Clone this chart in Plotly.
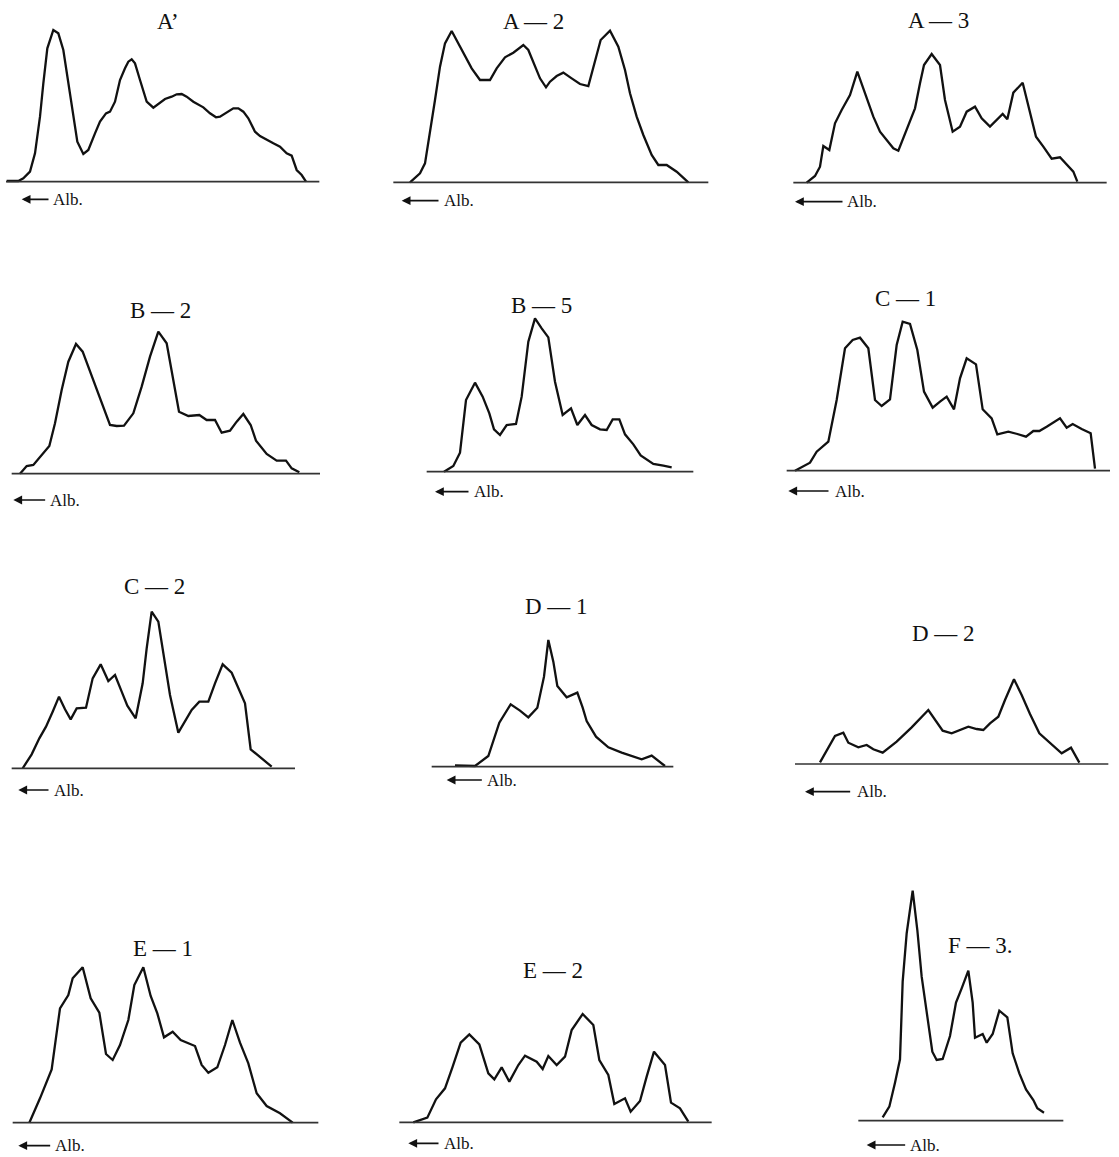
import plotly.graph_objects as go

W, H = 1119, 1157

# Panel labels
labels = ["A’", "A — 2", "A — 3", "B — 2", "B — 5", "C — 1",
          "C — 2", "D — 1", "D — 2", "E — 1", "E — 2", "F — 3."]

# Densitometer traces: position along strip, optical density
ap_x = [20, 55, 70, 90, 105, 120, 130, 142, 160, 175, 190, 205, 220, 232, 250, 265, 285, 300, 318, 330, 345, 360, 375, 385, 395, 405, 420, 430, 440, 460, 475, 495, 515, 530, 545, 560, 580, 600, 610, 630, 648, 660, 680, 700, 715, 730, 745, 765, 780, 800, 820, 840, 860, 875, 890, 905, 918]
ap_y = [2, 2, 10, 30, 85, 195, 295, 400, 455, 445, 395, 295, 195, 120, 83, 95, 145, 180, 205, 210, 240, 305, 340, 360, 367, 355, 305, 275, 240, 222, 233, 248, 255, 262, 263, 255, 240, 227, 223, 205, 193, 195, 207, 220, 220, 210, 190, 150, 137, 125, 115, 105, 85, 78, 35, 20, 0]

a2_x = [60, 90, 105, 120, 135, 150, 165, 185, 200, 220, 245, 270, 300, 320, 345, 370, 400, 415, 430, 450, 468, 480, 500, 520, 545, 570, 595, 610, 632, 660, 685, 705, 720, 740, 760, 785, 805, 830, 860, 895]
a2_y = [0, 27, 57, 147, 247, 347, 417, 454, 427, 387, 342, 307, 307, 342, 375, 389, 412, 397, 362, 312, 285, 302, 319, 329, 312, 295, 289, 347, 427, 455, 407, 337, 267, 197, 142, 82, 52, 52, 32, 0]

a3_x = [80, 105, 120, 130, 148, 165, 185, 210, 232, 255, 280, 300, 320, 340, 355, 380, 405, 420, 432, 455, 480, 495, 518, 540, 560, 585, 605, 630, 650, 668, 682, 700, 728, 745, 768, 790, 815, 840, 860, 880, 892]
a3_y = [0, 20, 48, 110, 98, 178, 218, 263, 333, 268, 198, 153, 128, 103, 96, 158, 223, 298, 353, 386, 353, 248, 153, 168, 213, 228, 193, 168, 188, 206, 190, 270, 300, 233, 138, 108, 72, 76, 53, 33, 3]

b2_x = [60, 80, 100, 125, 148, 165, 185, 205, 228, 248, 272, 300, 330, 350, 372, 400, 425, 450, 475, 500, 520, 537, 565, 598, 620, 645, 665, 690, 710, 730, 752, 768, 800, 830, 858, 875, 898]
b2_y = [0, 23, 26, 56, 83, 151, 251, 336, 389, 366, 301, 221, 146, 143, 144, 181, 261, 351, 426, 391, 281, 186, 173, 176, 161, 161, 123, 129, 156, 179, 146, 99, 59, 39, 39, 16, 4]

b5_x = [72, 100, 120, 138, 165, 188, 208, 222, 240, 260, 288, 305, 325, 345, 365, 385, 405, 428, 453, 472, 495, 515, 540, 560, 578, 598, 615, 640, 662, 700, 730, 755]
b5_y = [0, 17, 57, 215, 267, 225, 175, 127, 110, 140, 143, 225, 390, 460, 430, 403, 270, 170, 190, 140, 170, 140, 127, 125, 157, 157, 112, 82, 49, 23, 18, 13]

c1_x = [45, 90, 110, 145, 170, 195, 218, 240, 265, 285, 305, 330, 350, 368, 390, 412, 432, 458, 480, 500, 522, 540, 560, 588, 608, 635, 652, 685, 712, 738, 760, 778, 800, 822, 840, 860, 878, 905, 932, 945]
c1_y = [0, 24, 57, 87, 212, 367, 392, 399, 367, 212, 194, 214, 377, 447, 440, 362, 237, 189, 207, 222, 184, 277, 337, 319, 184, 157, 109, 117, 110, 102, 119, 119, 132, 145, 157, 129, 140, 125, 112, 6]

c2_x = [68, 95, 118, 138, 158, 177, 195, 212, 230, 258, 278, 302, 325, 345, 365, 382, 407, 428, 440, 455, 475, 490, 510, 535, 555, 575, 598, 625, 645, 668, 695, 715, 735, 752, 780, 815]
c2_y = [0, 42, 90, 125, 170, 215, 177, 147, 180, 182, 270, 312, 262, 280, 230, 188, 150, 255, 360, 470, 440, 345, 220, 107, 140, 175, 200, 200, 255, 312, 287, 243, 195, 57, 35, 5]

d1_x = [105, 165, 205, 238, 272, 300, 325, 352, 372, 385, 400, 412, 440, 472, 488, 500, 528, 565, 605, 640, 665, 695, 735]
d1_y = [4, 2, 32, 132, 187, 168, 148, 177, 270, 380, 315, 242, 208, 222, 177, 137, 90, 58, 42, 30, 22, 33, 2]

d2_x = [90, 135, 160, 175, 205, 230, 250, 278, 320, 365, 415, 440, 458, 485, 510, 535, 560, 580, 600, 625, 645, 672, 695, 720, 748, 775, 815, 843, 868]
d2_y = [5, 84, 94, 64, 50, 57, 44, 34, 67, 110, 162, 127, 100, 92, 102, 112, 105, 102, 122, 142, 192, 254, 207, 150, 92, 67, 32, 49, 4]

e1_x = [88, 120, 155, 180, 205, 218, 248, 272, 298, 318, 338, 360, 385, 403, 430, 452, 472, 492, 518, 542, 585, 605, 625, 652, 675, 697, 720, 745, 770, 800, 840, 878]
e1_y = [0, 73, 160, 343, 383, 433, 466, 373, 330, 206, 188, 233, 308, 413, 466, 380, 328, 256, 273, 248, 230, 173, 150, 166, 233, 308, 240, 178, 88, 50, 28, 0]

e2_x = [70, 112, 138, 165, 188, 212, 238, 268, 295, 313, 335, 358, 385, 405, 440, 458, 475, 500, 525, 545, 578, 610, 628, 655, 673, 705, 722, 750, 770, 792, 825, 843, 870, 895]
e2_y = [0, 14, 69, 102, 167, 239, 264, 234, 147, 129, 165, 122, 172, 200, 182, 160, 199, 172, 197, 277, 325, 292, 187, 142, 55, 72, 32, 64, 137, 212, 172, 59, 42, 2]

f3_x = [338, 358, 375, 390, 398, 410, 428, 442, 455, 470, 487, 500, 518, 540, 558, 575, 595, 608, 615, 638, 650, 668, 688, 712, 728, 748, 768, 790, 802, 822]
f3_y = [10, 42, 114, 184, 417, 562, 690, 572, 432, 322, 207, 182, 185, 254, 354, 397, 450, 354, 249, 260, 234, 260, 330, 310, 202, 142, 94, 62, 37, 24]

series = [(ap_x, ap_y), (a2_x, a2_y), (a3_x, a3_y), (b2_x, b2_y), (b5_x, b5_y), (c1_x, c1_y),
          (c2_x, c2_y), (d1_x, d1_y), (d2_x, d2_y), (e1_x, e1_y), (e2_x, e2_y), (f3_x, f3_y)]

# ---- layout (positions/styles) ----
# box: left, top, width, height in px; base: baseline offset; axis: baseline extent;
# title: (x, offset-from-top); arrow: (tip, tail, offset-from-top); alb: text left x
frames = [
    dict(box=(0, 0, 340, 215), base=545, axis=(18, 958), title=(505, 65), arrow=(65, 150, 598), alb=152),
    dict(box=(390, 0, 330, 215), base=547, axis=(10, 955), title=(430, 65), arrow=(35, 150, 602), alb=155),
    dict(box=(780, 0, 339, 215), base=548, axis=(40, 980), title=(474, 60), arrow=(45, 192, 605), alb=195),
    dict(box=(0, 290, 340, 220), base=551, axis=(35, 960), title=(480, 60), arrow=(40, 140, 630), alb=145),
    dict(box=(420, 290, 280, 220), base=545, axis=(20, 820), title=(365, 45), arrow=(45, 150, 605), alb=155),
    dict(box=(780, 280, 339, 230), base=572, axis=(20, 990), title=(375, 54), arrow=(25, 150, 633), alb=160),
    dict(box=(0, 570, 340, 230), base=595, axis=(35, 885), title=(462, 50), arrow=(55, 150, 660), alb=155),
    dict(box=(420, 580, 280, 220), base=560, axis=(35, 760), title=(410, 80), arrow=(80, 190, 600), alb=195),
    dict(box=(790, 610, 329, 190), base=462, axis=(15, 955), title=(460, 70), arrow=(45, 185, 545), alb=195),
    dict(box=(0, 880, 340, 277), base=728, axis=(38, 955), title=(490, 205), arrow=(55, 155, 797), alb=158),
    dict(box=(390, 940, 330, 217), base=547, axis=(28, 965), title=(490, 90), arrow=(55, 150, 610), alb=155),
    dict(box=(770, 880, 349, 277), base=722, axis=(265, 880), title=(630, 195), arrow=(290, 410, 795), alb=415),
]

SERIF = "Liberation Serif, Times New Roman, serif"

fig = go.Figure()
annotations = []
shapes = []
layout_axes = {}

for i, ((xs, ys), fr, lab) in enumerate(zip(series, frames, labels)):
    n = "" if i == 0 else str(i + 1)
    xa, ya = "x" + n, "y" + n
    cx, cy, cw, ch = fr["box"]
    base = fr["base"]
    layout_axes["xaxis" + n] = dict(domain=[cx / W, (cx + cw) / W], range=[0, 3 * cw],
                                    visible=False, fixedrange=True, anchor=ya)
    layout_axes["yaxis" + n] = dict(domain=[1 - (cy + ch) / H, 1 - cy / H], range=[base - 3 * ch, base],
                                    visible=False, fixedrange=True, anchor=xa)
    fig.add_trace(go.Scatter(x=xs, y=ys, mode="lines", xaxis=xa, yaxis=ya,
                             line=dict(color="#111111", width=2.3), hoverinfo="skip",
                             showlegend=False))
    shapes.append(dict(type="line", xref=xa, yref=ya, x0=fr["axis"][0], x1=fr["axis"][1],
                       y0=0, y1=0, line=dict(color="#333333", width=1.6)))
    tx, ty = fr["title"]
    annotations.append(dict(x=tx, y=base - ty, xref=xa, yref=ya, text=lab, showarrow=False,
                            font=dict(family=SERIF, size=23, color="#111111"),
                            xanchor="center", yanchor="middle"))
    a0, a1, ay = fr["arrow"]
    annotations.append(dict(x=a0, y=base - ay, xref=xa, yref=ya, ax=a1, ay=base - ay,
                            axref=xa, ayref=ya, text="", showarrow=True, arrowhead=2,
                            arrowsize=1.1, arrowwidth=1.6, arrowcolor="#111111"))
    annotations.append(dict(x=fr["alb"], y=base - ay, xref=xa, yref=ya, text="Alb.",
                            showarrow=False, xanchor="left", yanchor="middle",
                            font=dict(family=SERIF, size=17, color="#111111")))

fig.update_layout(width=W, height=H, autosize=False,
                  margin=dict(l=0, r=0, t=0, b=0),
                  paper_bgcolor="white", plot_bgcolor="rgba(0,0,0,0)",
                  annotations=annotations, shapes=shapes, **layout_axes)

fig.write_html("out.html", config={"displayModeBar": False},
               post_script="document.body.style.margin='0';document.body.style.overflow='hidden';")
